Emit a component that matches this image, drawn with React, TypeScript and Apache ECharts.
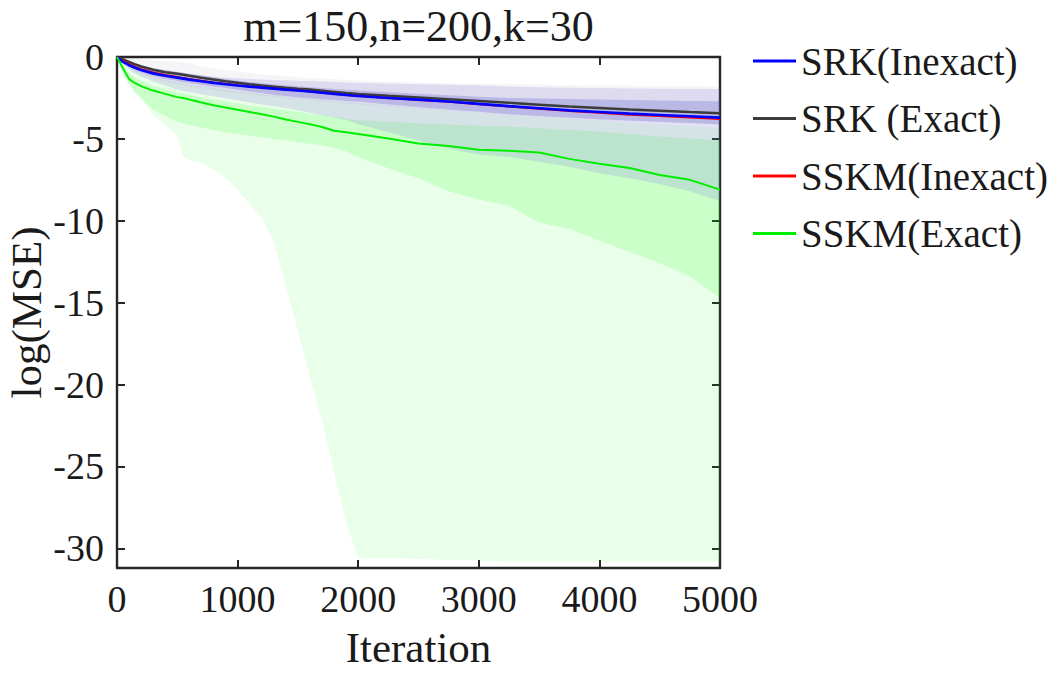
import React, { useEffect, useRef } from 'react';
import * as echarts from 'echarts';

const FONT = '"Liberation Serif", "Times New Roman", Times, serif';

const TITLE = 'm=150,n=200,k=30';
const X_NAME = 'Iteration';
const Y_NAME = 'log(MSE)';
const X_TICKS = [0, 1000, 2000, 3000, 4000, 5000];
const Y_TICKS = [0, -5, -10, -15, -20, -25, -30];

const ITER = [0, 50, 100, 150, 200, 300, 400, 500, 550, 600, 700, 800, 900, 1000, 1100, 1200, 1300, 1400, 1500, 1600, 1700, 1800, 1900, 2000, 2250, 2500, 2750, 3000, 3250, 3500, 3750, 4000, 4250, 4500, 4750, 5000];

const SRK_INEXACT = [0, -0.3, -0.5, -0.66, -0.8, -1.0, -1.15, -1.26, -1.32, -1.38, -1.48, -1.58, -1.66, -1.74, -1.81, -1.87, -1.93, -1.99, -2.05, -2.11, -2.18, -2.25, -2.32, -2.38, -2.5, -2.6, -2.72, -2.86, -3.0, -3.13, -3.26, -3.36, -3.46, -3.54, -3.62, -3.7];
const SRK_EXACT = [0, -0.15, -0.3, -0.45, -0.58, -0.78, -0.93, -1.02, -1.08, -1.15, -1.27, -1.38, -1.48, -1.57, -1.66, -1.74, -1.81, -1.88, -1.94, -1.99, -2.06, -2.13, -2.2, -2.26, -2.37, -2.47, -2.58, -2.69, -2.8, -2.91, -3.02, -3.11, -3.2, -3.28, -3.36, -3.43];
const SSKM_INEXACT = [0, -0.24, -0.44, -0.6, -0.74, -0.95, -1.1, -1.22, -1.28, -1.34, -1.45, -1.55, -1.64, -1.72, -1.8, -1.86, -1.92, -1.98, -2.05, -2.11, -2.18, -2.25, -2.32, -2.38, -2.51, -2.62, -2.74, -2.88, -3.02, -3.16, -3.3, -3.41, -3.52, -3.61, -3.7, -3.78];
const SSKM_EXACT = [0, -0.7, -1.35, -1.6, -1.78, -2.05, -2.25, -2.45, -2.5, -2.6, -2.78, -2.95, -3.08, -3.22, -3.36, -3.5, -3.64, -3.82, -3.96, -4.1, -4.27, -4.5, -4.6, -4.7, -4.98, -5.28, -5.43, -5.66, -5.73, -5.83, -6.22, -6.52, -6.78, -7.2, -7.5, -8.1];

// shaded ranges
const GREEN_OUTER_UPPER = [0, -0.35, -0.6, -0.8, -0.95, -1.2, -1.4, -1.55, -1.62, -1.7, -1.8, -1.9, -2.0, -2.1, -2.18, -2.26, -2.34, -2.42, -2.5, -2.56, -2.63, -2.7, -2.77, -2.83, -2.98, -3.12, -3.26, -3.4, -3.52, -3.64, -3.76, -3.88, -4.0, -4.1, -4.2, -4.3];
const GREEN_OUTER_LOWER = [0, -0.9, -1.6, -2.1, -2.5, -3.55, -4.1, -4.85, -6.1, -6.3, -6.45, -6.85, -7.4, -8.1, -9.0, -9.8, -11.3, -14.0, -16.7, -19.6, -22.2, -25.4, -28.4, -30.6, -30.6, -30.65, -30.7, -30.75, -30.8, -30.8, -30.8, -30.8, -30.8, -30.8, -30.8, -30.8];
const GREEN_INNER_UPPER = [0, -0.5, -1.0, -1.25, -1.45, -1.75, -1.95, -2.15, -2.22, -2.3, -2.45, -2.58, -2.7, -2.82, -2.94, -3.05, -3.15, -3.25, -3.35, -3.45, -3.55, -3.65, -3.75, -3.85, -3.95, -4.05, -4.12, -4.2, -4.25, -4.35, -4.45, -4.55, -4.7, -4.85, -4.98, -5.1];
const GREEN_INNER_LOWER = [0, -1.0, -1.7, -2.2, -2.55, -3.2, -3.6, -3.95, -4.05, -4.15, -4.3, -4.45, -4.6, -4.7, -4.8, -4.9, -5.0, -5.1, -5.2, -5.3, -5.4, -5.55, -5.75, -6.1, -6.8, -7.4, -8.2, -8.7, -9.1, -10.1, -10.5, -11.2, -11.9, -12.6, -13.4, -14.7];
const PURPLE_WIDE_UPPER = [0, -0.12, -0.25, -0.38, -0.5, -0.68, -0.82, -0.92, -0.98, -1.03, -1.12, -1.2, -1.26, -1.3, -1.34, -1.38, -1.4, -1.42, -1.45, -1.48, -1.5, -1.53, -1.56, -1.58, -1.62, -1.66, -1.7, -1.74, -1.8, -1.84, -1.87, -1.9, -1.92, -1.94, -1.95, -1.95];
const PURPLE_WIDE_LOWER = [0, -0.45, -0.75, -1.0, -1.2, -1.5, -1.75, -1.98, -2.07, -2.15, -2.28, -2.4, -2.52, -2.65, -2.78, -2.9, -3.0, -3.12, -3.25, -3.4, -3.55, -3.7, -3.85, -4.1, -4.6, -5.1, -5.6, -5.95, -6.1, -6.4, -6.7, -7.1, -7.4, -7.75, -8.2, -8.8];
const GREY_UPPER = [0, -0.02, -0.05, -0.08, -0.12, -0.2, -0.26, -0.3, -0.33, -0.36, -0.6, -0.7, -0.8, -0.9, -0.98, -1.05, -1.12, -1.18, -1.24, -1.28, -1.32, -1.36, -1.4, -1.43, -1.5, -1.55, -1.6, -1.64, -1.67, -1.7, -1.72, -1.74, -1.76, -1.78, -1.79, -1.8];
const GREY_LOWER = [0, -0.4, -0.7, -0.9, -1.05, -1.3, -1.5, -1.65, -1.72, -1.8, -1.92, -2.02, -2.12, -2.2, -2.28, -2.36, -2.43, -2.5, -2.57, -2.63, -2.7, -2.77, -2.84, -2.9, -3.03, -3.15, -3.28, -3.4, -3.52, -3.64, -3.76, -3.86, -3.95, -4.03, -4.1, -4.2];
const PURPLE_CORE_UPPER = [0, -0.12, -0.25, -0.38, -0.5, -0.68, -0.8, -0.9, -0.96, -1.02, -1.13, -1.24, -1.35, -1.45, -1.52, -1.6, -1.66, -1.72, -1.78, -1.84, -1.9, -1.95, -2.0, -2.05, -2.15, -2.24, -2.33, -2.42, -2.5, -2.54, -2.57, -2.6, -2.63, -2.66, -2.68, -2.7];
const PURPLE_CORE_LOWER = [0, -0.38, -0.6, -0.8, -0.95, -1.18, -1.33, -1.45, -1.52, -1.58, -1.7, -1.8, -1.9, -2.0, -2.1, -2.2, -2.3, -2.38, -2.45, -2.52, -2.58, -2.63, -2.68, -2.72, -2.9, -3.05, -3.2, -3.35, -3.5, -3.6, -3.7, -3.8, -3.88, -3.96, -4.03, -4.1];

const LEGEND_NAMES = ['SRK(Inexact)', 'SRK (Exact)', 'SSKM(Inexact)', 'SSKM(Exact)'];

const pairs = (ys: number[]) => ITER.map((x, i) => [x, ys[i]]);

function band(id: string, lower: number[], upper: number[], color: string, z: number): any {
  return {
    type: 'custom',
    name: id,
    silent: true,
    z,
    clip: true,
    encode: { x: 0, y: [1, 2] },
    data: ITER.map((x, i) => [x, lower[i], upper[i]]),
    renderItem: (params: any, api: any) => {
      if (params.dataIndex !== 0) return null;
      const pts: number[][] = [];
      for (let i = 0; i < ITER.length; i++) pts.push(api.coord([ITER[i], upper[i]]));
      for (let i = ITER.length - 1; i >= 0; i--) pts.push(api.coord([ITER[i], lower[i]]));
      return {
        type: 'polygon',
        shape: { points: pts },
        style: { fill: color, stroke: 'none' },
        silent: true,
      };
    },
  };
}

function line(name: string, ys: number[], color: string, width: number, z: number) {
  return {
    type: 'line',
    name,
    data: pairs(ys),
    symbol: 'none',
    showSymbol: false,
    silent: true,
    lineStyle: { color, width },
    itemStyle: { color },
    emphasis: { disabled: true },
    z,
  };
}

export default function App() {
  const ref = useRef<HTMLDivElement>(null);
  useEffect(() => {
    if (!ref.current) return;
    const chart = echarts.init(ref.current, null, { renderer: 'svg' });
    const axisColor = '#262626';
    const textColor = '#1a1a1a';
    const xAxisBase = {
      type: 'value',
      min: 0,
      max: 5000,
      interval: 1000,
      splitLine: { show: false },
      axisLine: { show: true, onZero: false, lineStyle: { color: axisColor, width: 2.4 } },
      axisTick: { show: true, inside: true, length: 8, lineStyle: { color: axisColor, width: 2 } },
    };
    const yAxisBase = {
      type: 'value',
      min: -31.2,
      max: 0,
      splitLine: { show: false },
      axisLine: { show: true, onZero: false, lineStyle: { color: axisColor, width: 2.4 } },
      axisTick: { show: true, inside: true, length: 8, customValues: Y_TICKS, lineStyle: { color: axisColor, width: 2 } },
    };
    const option: any = {
      animation: false,
      backgroundColor: '#ffffff',
      grid: { left: 117, top: 57, width: 603, height: 511, containLabel: false, outerBoundsMode: 'none' },
      graphic: [
        {
          type: 'text',
          x: 418.5,
          y: 26,
          style: {
            text: TITLE,
            textAlign: 'center',
            textVerticalAlign: 'middle',
            font: `44px ${FONT}`,
            fill: textColor,
          },
        },
      ],
      legend: {
        orient: 'vertical',
        left: 748,
        top: 36,
        itemWidth: 43,
        itemHeight: 3,
        itemGap: 17.5,
        icon: 'rect',
        selectedMode: false,
        data: LEGEND_NAMES,
        textStyle: { fontFamily: FONT, fontSize: 39, lineHeight: 40, color: textColor },
      },
      xAxis: [
        {
          ...xAxisBase,
          position: 'bottom',
          name: X_NAME,
          nameLocation: 'middle',
          nameGap: 58,
          nameMoveOverlap: false,
          nameTextStyle: { fontFamily: FONT, fontSize: 43, color: textColor },
          axisLabel: {
            show: true,
            margin: 12,
            fontFamily: FONT,
            fontSize: 38,
            color: textColor,
            customValues: X_TICKS,
            formatter: (v: number) => String(v),
          },
        },
        { ...xAxisBase, position: 'top', axisLabel: { show: false } },
      ],
      yAxis: [
        {
          ...yAxisBase,
          position: 'left',
          name: Y_NAME,
          nameLocation: 'middle',
          nameGap: 69,
          nameMoveOverlap: false,
          nameTextStyle: { fontFamily: FONT, fontSize: 43, color: textColor },
          axisLabel: {
            show: true,
            margin: 13,
            fontFamily: FONT,
            fontSize: 38,
            color: textColor,
            customValues: Y_TICKS,
            formatter: (v: number) => String(v),
          },
        },
        { ...yAxisBase, position: 'right', axisLabel: { show: false } },
      ],
      series: [
        band('greenOuter', GREEN_OUTER_LOWER, GREEN_OUTER_UPPER, 'rgba(0,255,0,0.085)', 1),
        band('greenInner', GREEN_INNER_LOWER, GREEN_INNER_UPPER, 'rgba(0,255,0,0.13)', 1),
        band('purpleWide', PURPLE_WIDE_LOWER, PURPLE_WIDE_UPPER, 'rgba(120,100,220,0.18)', 1),
        band('grey', GREY_LOWER, GREY_UPPER, 'rgba(120,120,140,0.07)', 1),
        band('purpleCore', PURPLE_CORE_LOWER, PURPLE_CORE_UPPER, 'rgba(80,80,190,0.25)', 1),
        line(LEGEND_NAMES[1], SRK_EXACT, '#3c3c3c', 2.5, 3),
        line(LEGEND_NAMES[2], SSKM_INEXACT, '#ff0000', 2, 4),
        line(LEGEND_NAMES[0], SRK_INEXACT, '#0000ff', 2.6, 5),
        line(LEGEND_NAMES[3], SSKM_EXACT, '#00ee00', 2, 5),
      ],
    };
    chart.setOption(option);
    return () => chart.dispose();
  }, []);
  return (
    <div
      ref={ref}
      style={{ position: 'absolute', left: 0, top: 0, width: 1062, height: 674, background: '#fff' }}
    />
  );
}
